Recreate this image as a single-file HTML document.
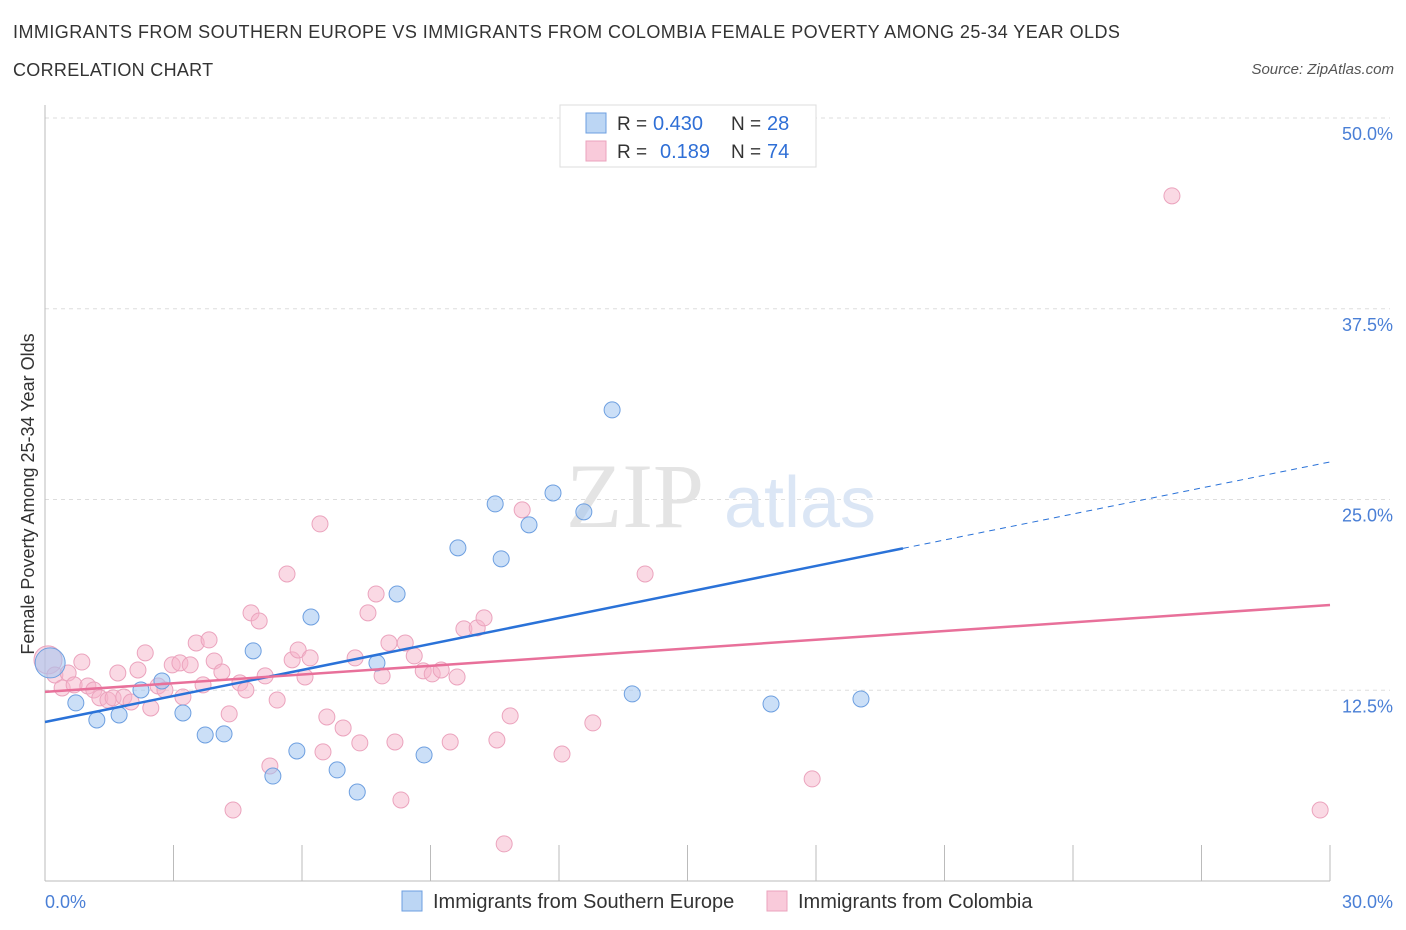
<!DOCTYPE html>
<html><head><meta charset="utf-8">
<style>
body{margin:0;background:#fff;font-family:"Liberation Sans",sans-serif;}
#wrap{position:relative;width:1406px;height:930px;overflow:hidden;}
.t{position:absolute;white-space:nowrap;}
</style></head>
<body>
<div id="wrap">
<div class="t" style="left:13px;top:22px;font-size:18px;letter-spacing:0.45px;color:#333;">IMMIGRANTS FROM SOUTHERN EUROPE VS IMMIGRANTS FROM COLOMBIA FEMALE POVERTY AMONG 25-34 YEAR OLDS</div>
<div class="t" style="left:13px;top:60px;font-size:18px;letter-spacing:0.3px;color:#333;">CORRELATION CHART</div>
<div class="t" style="right:12px;top:61px;font-size:15px;color:#555;font-style:italic;">Source: ZipAtlas.com</div>
<svg id="svg" width="1406" height="930" style="position:absolute;left:0;top:0"></svg>
</div>
<script>
const blueX=[0.12,0.72,1.21,1.73,2.24,2.73,3.22,3.74,4.18,4.86,5.32,5.88,6.21,6.82,7.29,7.75,8.22,8.85,9.64,10.51,10.65,11.30,11.86,12.58,13.24,13.71,16.95,19.05];
const blueY=[14.29,11.67,10.55,10.88,12.52,13.11,11.01,9.57,9.64,15.08,6.88,8.52,17.30,7.28,5.83,14.29,18.81,8.26,21.83,24.71,21.11,23.34,25.43,24.19,30.87,12.26,11.60,11.93];
const pinkX=[0.07,0.23,0.40,0.54,0.68,0.86,1.00,1.14,1.28,1.47,1.59,1.70,1.84,2.01,2.17,2.34,2.47,2.64,2.80,2.97,3.15,3.22,3.39,3.53,3.69,3.83,3.95,4.13,4.30,4.39,4.55,4.69,4.81,5.00,5.14,5.25,5.42,5.65,5.77,5.91,6.07,6.19,6.42,6.58,6.49,6.96,7.24,7.35,7.54,7.73,7.87,8.03,8.17,8.31,8.41,8.62,8.83,9.04,9.25,9.46,9.62,9.78,10.09,10.25,10.55,10.72,10.86,11.14,12.07,12.79,14.01,17.91,26.31,29.77];
const pinkY=[14.49,13.50,12.65,13.63,12.85,14.35,12.78,12.52,12.00,11.86,12.00,13.63,12.06,11.73,13.83,14.95,11.34,12.78,12.52,14.16,14.29,12.06,14.16,15.60,12.85,15.80,14.42,13.70,10.95,4.65,12.98,12.52,17.57,17.04,13.44,7.54,11.86,20.12,14.49,15.14,13.37,14.62,23.40,10.75,8.46,10.03,14.62,9.05,17.57,18.81,13.44,15.60,9.11,5.31,15.60,14.75,13.77,13.57,13.83,9.11,13.37,16.52,16.58,17.24,9.24,2.43,10.82,24.32,8.32,10.36,20.12,6.69,44.90,4.65];
const yTicks=[12.5,25.0,37.5,50.0];
const yTickLabels=["12.5%","25.0%","37.5%","50.0%"];
const blueTrend=[10.42,27.46];
const pinkTrend=[12.39,18.09];
const blueSolidEnd=20.03;

const X0=45,X1=1330,Y0=881,YTOP=118;
const xs=v=>X0+(v/30)*(X1-X0);
const ys=v=>Y0-(v/50)*(Y0-YTOP);
const svg=document.getElementById('svg');
const NS='http://www.w3.org/2000/svg';
function mk(tag,attrs,parent){const e=document.createElementNS(NS,tag);for(const k in attrs)e.setAttribute(k,attrs[k]);(parent||svg).appendChild(e);return e;}

yTicks.forEach((t,i)=>{
  const g=mk('line',{x1:X0,x2:X1+60,y1:ys(t),y2:ys(t),stroke:'#ddd','stroke-dasharray':'4,4'});
  
  
  const tx=mk('text',{x:1393,y:ys(t)+22,'text-anchor':'end','font-size':18,fill:'#4a7fd6','font-family':'Liberation Sans'});
  tx.textContent=yTickLabels[i];
  
  
});
const ya=mk('line',{x1:X0,x2:X0,y1:105,y2:Y0,stroke:'#bbb'});


const xa=mk('line',{x1:X0,x2:X1,y1:Y0,y2:Y0,stroke:'#bbb'});


for(let i=0;i<=10;i++){
  const tk=mk('line',{x1:xs(i*3),x2:xs(i*3),y1:Y0,y2:Y0-36,stroke:'#bbb'});
  
  
}
const wm=mk('text',{x:635,y:527,'text-anchor':'middle','font-size':92,fill:'#e4e4e4','font-family':'Liberation Serif'});
wm.textContent='ZIP';


const wm2=mk('text',{x:800,y:527,'text-anchor':'middle','font-size':72,fill:'#dbe6f5','font-family':'Liberation Sans'});
wm2.textContent='atlas';



function pts(X,Y,fill,stroke,name,firstR){
  X.forEach((x,i)=>{
    const c=mk('circle',{cx:xs(x),cy:ys(Y[i]),r:i===0?firstR:8,fill:fill,stroke:stroke,'stroke-width':1});
    
    
  });
}
pts(pinkX,pinkY,'rgba(246,180,202,0.5)','#eba3bd','colombia-point',14);
pts(blueX,blueY,'rgba(160,196,240,0.55)','#6d9fe0','southern-europe-point',15);

const bs=blueTrend[0]+(blueTrend[1]-blueTrend[0])*blueSolidEnd/30;
const bl=mk('line',{x1:xs(0),y1:ys(blueTrend[0]),x2:xs(blueSolidEnd),y2:ys(bs),stroke:'#2a72d8','stroke-width':2.5});


const bd=mk('line',{x1:xs(blueSolidEnd),y1:ys(bs),x2:xs(30),y2:ys(blueTrend[1]),stroke:'#2a72d8','stroke-width':1,'stroke-dasharray':'6,5'});


const pl=mk('line',{x1:xs(0),y1:ys(pinkTrend[0]),x2:xs(30),y2:ys(pinkTrend[1]),stroke:'#e8709a','stroke-width':2.5});



const xl0=mk('text',{x:45,y:908,'font-size':18,fill:'#4a7fd6','font-family':'Liberation Sans'});xl0.textContent='0.0%';


const xl1=mk('text',{x:1393,y:908,'text-anchor':'end','font-size':18,fill:'#4a7fd6','font-family':'Liberation Sans'});xl1.textContent='30.0%';


const yt=mk('text',{x:0,y:0,transform:'translate(34,494) rotate(-90)','text-anchor':'middle','font-size':18,fill:'#333','font-family':'Liberation Sans'});
yt.textContent='Female Poverty Among 25-34 Year Olds';



const lg=mk('rect',{x:560,y:105,width:256,height:62,fill:'#fff',stroke:'#ddd'});


[[123,'rgba(160,196,240,0.7)','#6d9fe0','0.430','28',653],[151,'rgba(246,180,202,0.7)','#eba3bd','0.189','74',660]].forEach(r=>{
  const sq=mk('rect',{x:586,y:r[0]-10,width:20,height:20,fill:r[1],stroke:r[2]});
  
  
  const a=mk('text',{x:617,y:r[0]+7,'font-size':19,fill:'#333','font-family':'Liberation Sans'});
  a.textContent='R =';
  
  
  const b=mk('text',{x:r[5],y:r[0]+7,'font-size':20,fill:'#2f6fd6','font-family':'Liberation Sans'});
  b.textContent=r[3];
  
  
  const c=mk('text',{x:731,y:r[0]+7,'font-size':19,fill:'#333','font-family':'Liberation Sans'});
  c.textContent='N =';
  
  
  const d=mk('text',{x:767,y:r[0]+7,'font-size':20,fill:'#2f6fd6','font-family':'Liberation Sans'});
  d.textContent=r[4];
  
  
});
[[402,'rgba(160,196,240,0.7)','#6d9fe0','Immigrants from Southern Europe','legend-southern-europe'],[767,'rgba(246,180,202,0.7)','#eba3bd','Immigrants from Colombia','legend-colombia']].forEach(r=>{
  const sq=mk('rect',{x:r[0],y:891,width:20,height:20,fill:r[1],stroke:r[2]});
  
  
  const t=mk('text',{x:r[0]+31,y:908,'font-size':20,fill:'#333','font-family':'Liberation Sans'});
  t.textContent=r[3];
  
  
});
</script>
</body></html>
